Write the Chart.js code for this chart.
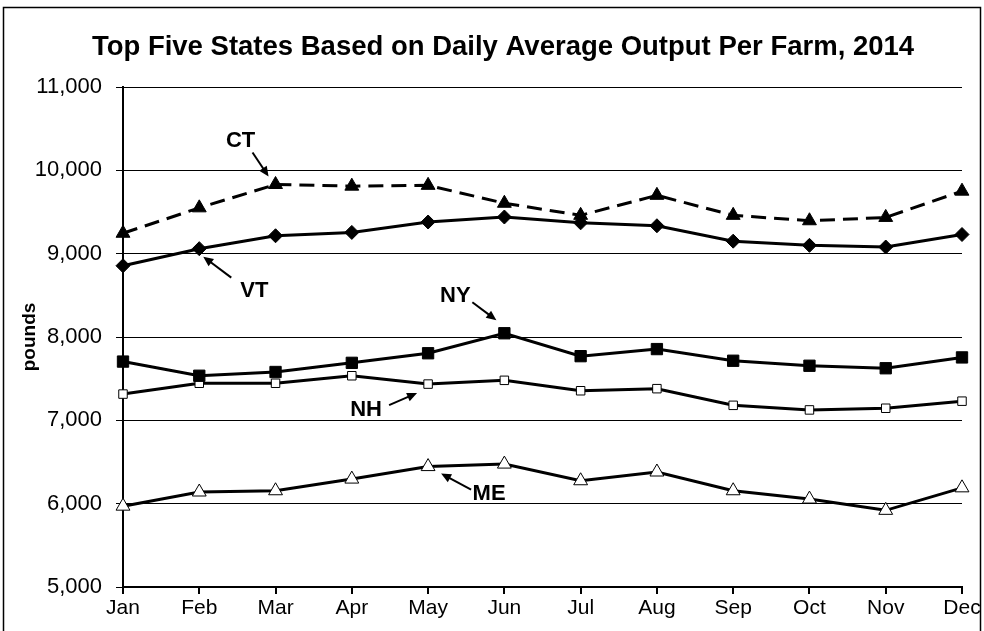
<!DOCTYPE html>
<html>
<head>
<meta charset="utf-8">
<script src="https://cdn.jsdelivr.net/npm/chart.js@4.4.1/dist/chart.umd.min.js"></script>
<style>
  html, body { margin: 0; padding: 0; background: #fff; }
</style>
</head>
<body>
<canvas id="milkChart" width="984" height="631"></canvas>
<script>
// values (pounds per farm per day)
const months = ['Jan', 'Feb', 'Mar', 'Apr', 'May', 'Jun', 'Jul', 'Aug', 'Sep', 'Oct', 'Nov', 'Dec'];
const ctValues = [9245, 9550, 9830, 9810, 9820, 9605, 9460, 9700, 9460, 9395, 9435, 9750];
const vtValues = [8855, 9060, 9215, 9255, 9380, 9440, 9370, 9335, 9150, 9100, 9080, 9230];
const nyValues = [7705, 7535, 7580, 7690, 7805, 8045, 7770, 7855, 7715, 7655, 7625, 7755];
const nhValues = [7315, 7445, 7445, 7535, 7435, 7480, 7355, 7380, 7180, 7125, 7145, 7230];
const meValues = [5970, 6140, 6155, 6295, 6445, 6475, 6275, 6380, 6155, 6055, 5920, 6190];
const yTicks = [5000, 6000, 7000, 8000, 9000, 10000, 11000];

const FONT = "'Liberation Sans', Arial, sans-serif";
const chartTitle = 'Top Five States Based on Daily Average Output Per Farm, 2014';

// callout labels, offsets are relative to the point they point at
const notes = [
    { text: 'CT', series: 0, idx: 2, tx: -35, ty: -44, x1: -23, y1: -32, x2: -7, y2: -8 },
    { text: 'VT', series: 1, idx: 1, tx: 55, ty: 42, x1: 32, y1: 29, x2: 4, y2: 8 },
    { text: 'NY', series: 2, idx: 5, tx: -49, ty: -37, x1: -32, y1: -31, x2: -8, y2: -13 },
    { text: 'NH', series: 3, idx: 4, tx: -62, ty: 26, x1: -39, y1: 21, x2: -11, y2: 9 },
    { text: 'ME', series: 4, idx: 4, tx: 61, ty: 27, x1: 43, y1: 23, x2: 13, y2: 7 },
];

const calloutPlugin = {
    id: 'callouts',
    beforeDraw(chart) {
        const c = chart.ctx;
        c.save();
        c.fillStyle = '#fff';
        c.fillRect(0, 0, chart.width, chart.height);
        c.strokeStyle = '#000';
        c.lineWidth = 1.5;
        c.strokeRect(3.5, 7.5, 977, 640);
        // title, a bit right of the canvas centre like the original
        c.fillStyle = '#000';
        c.font = 'bold 27.5px ' + FONT;
        c.textAlign = 'center';
        c.textBaseline = 'middle';
        c.fillText(chartTitle, 503, 47);
        c.restore();
    },
    afterDatasetsDraw(chart) {
        const c = chart.ctx;
        c.save();
        c.fillStyle = '#000';
        c.strokeStyle = '#000';
        c.font = 'bold 22px ' + FONT;
        c.textAlign = 'center';
        c.textBaseline = 'middle';
        notes.forEach(n => {
            const pt = chart.getDatasetMeta(n.series).data[n.idx];
            c.fillText(n.text, pt.x + n.tx, pt.y + n.ty);
            const sx = pt.x + n.x1, sy = pt.y + n.y1;
            const ex = pt.x + n.x2, ey = pt.y + n.y2;
            const ang = Math.atan2(ey - sy, ex - sx);
            c.lineWidth = 2;
            c.beginPath();
            c.moveTo(sx, sy);
            c.lineTo(ex - Math.cos(ang) * 6, ey - Math.sin(ang) * 6);
            c.stroke();
            c.beginPath();
            c.moveTo(ex, ey);
            c.lineTo(ex - Math.cos(ang) * 10 + Math.sin(ang) * 4.5, ey - Math.sin(ang) * 10 - Math.cos(ang) * 4.5);
            c.lineTo(ex - Math.cos(ang) * 10 - Math.sin(ang) * 4.5, ey - Math.sin(ang) * 10 + Math.cos(ang) * 4.5);
            c.closePath();
            c.fill();
        });
        c.restore();
    }
};

function series(label, values, style, radius, fill, dash) {
    return {
        label: label,
        data: values,
        borderColor: '#000',
        borderWidth: 3,
        borderDash: dash || [],
        pointStyle: style,
        pointRadius: radius,
        pointBackgroundColor: fill,
        pointBorderColor: '#000',
        pointBorderWidth: 1,
        tension: 0,
        fill: false
    };
}

new Chart(document.getElementById('milkChart'), {
    type: 'line',
    data: {
        labels: months,
        datasets: [
            series('CT', ctValues, 'triangle', 8, '#000', [15, 8]),
            series('VT', vtValues, 'rectRot', 7, '#000'),
            series('NY', nyValues, 'rect', 8, '#000'),
            series('NH', nhValues, 'rect', 6, '#fff'),
            series('ME', meValues, 'triangle', 8, '#fff'),
        ]
    },
    options: {
        responsive: false,
        animation: false,
        devicePixelRatio: 1,
        layout: { padding: { left: 0, right: 22, top: 87, bottom: 0 } },
        plugins: {
            legend: { display: false },
            tooltip: { enabled: false },
            title: { display: false }
        },
        scales: {
            x: {
                offset: false,
                afterFit: s => { s.height = 44; },
                grid: { drawOnChartArea: false, drawTicks: true, tickLength: 7, color: '#000', lineWidth: 2 },
                border: { display: true, color: '#000', width: 2 },
                ticks: { color: '#000', padding: 2, maxRotation: 0, font: { family: FONT, size: 21 } }
            },
            y: {
                min: 5000,
                max: 11000,
                afterFit: s => { s.width = 123; },
                afterBuildTicks: s => { s.ticks = yTicks.map(v => ({ value: v })); },
                grid: { color: '#000', lineWidth: 1, tickLength: 7 },
                border: { display: true, color: '#000', width: 2 },
                ticks: {
                    color: '#000',
                    padding: 14,
                    font: { family: FONT, size: 22 },
                    callback: v => v.toLocaleString('en-US')
                },
                title: {
                    display: true,
                    text: 'pounds',
                    color: '#000',
                    padding: { top: 18, bottom: 0 },
                    font: { family: FONT, size: 19, weight: 'bold', lineHeight: 1.2 }
                }
            }
        }
    },
    plugins: [calloutPlugin]
});
</script>
</body>
</html>
